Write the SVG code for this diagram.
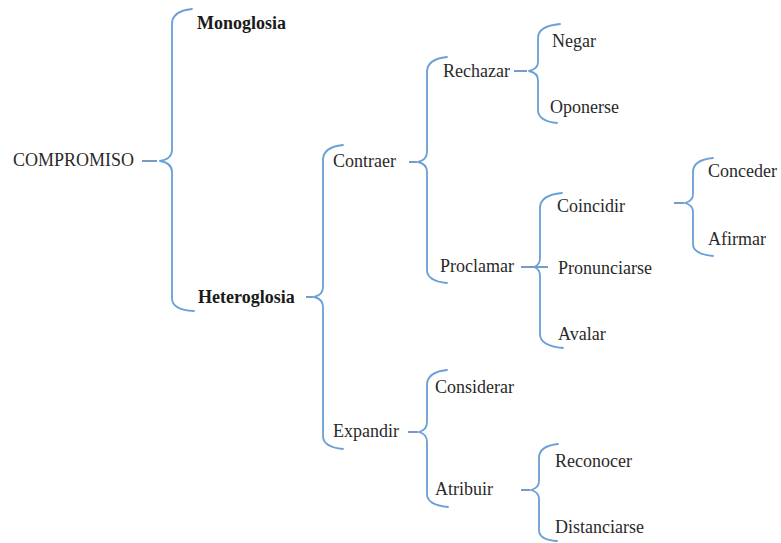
<svg xmlns="http://www.w3.org/2000/svg" width="781" height="543" viewBox="0 0 781 543" font-family="Liberation Serif, DejaVu Serif, serif">
<style>
.t{font-size:18px;fill:#2a2a2a}
.b{font-weight:bold;fill:#1a1a1a}
.br{fill:none;stroke:#6a9fd8;stroke-width:1.8;stroke-linecap:round;stroke-linejoin:round}
.d{fill:none;stroke:#6a8fbf;stroke-width:1.8}
</style>
<rect width="781" height="543" fill="#ffffff"/>
<g id="connectors">
<line class="d" x1="142" y1="161" x2="157" y2="161"/>
<path class="br" d="M192,9 Q172,11 172,24 L172,150 Q172,159 160,161 Q172,163 172,172 L172,298 Q172,310 194,311"/>
<line class="d" x1="306" y1="297" x2="313" y2="297"/>
<path class="br" d="M343,145 Q323,147 323,160 L323,287 Q323,295 314,297 Q323,299 323,307 L323,436 Q323,447 343,449"/>
<line class="d" x1="409" y1="162" x2="417" y2="162"/>
<path class="br" d="M447,57 Q427,59 427,72 L427,152 Q427,160 418,162 Q427,164 427,172 L427,270 Q427,281 447,283"/>
<line class="d" x1="514" y1="71" x2="527" y2="71"/>
<path class="br" d="M560,24 Q538,26 538,38 L538,62 Q538,69 529,71 Q538,73 538,80 L538,110 Q538,121 557,123"/>
<line class="d" x1="521" y1="267" x2="548" y2="267"/>
<path class="br" d="M562,193 Q540,195 540,208 L540,258 Q540,265 534,267 Q540,269 540,276 L540,334 Q540,346 563,348"/>
<line class="d" x1="674" y1="203" x2="684" y2="203"/>
<path class="br" d="M713,158 Q693,160 693,172 L693,194 Q693,201 685,203 Q693,205 693,212 L693,244 Q693,254 713,256"/>
<line class="d" x1="408" y1="432" x2="418" y2="432"/>
<path class="br" d="M447,370 Q427,372 427,385 L427,422 Q427,430 419,432 Q427,434 427,442 L427,494 Q427,505 448,507"/>
<line class="d" x1="521" y1="490" x2="530" y2="490"/>
<path class="br" d="M558,444 Q539,446 539,458 L539,481 Q539,488 531,490 Q539,492 539,499 L539,530 Q539,540 557,541"/>
</g>
<g id="n-compromiso"><text class="t" x="13" y="166">COMPROMISO</text></g>
<g id="n-monoglosia"><text class="t b" x="197" y="29">Monoglosia</text></g>
<g id="n-heteroglosia"><text class="t b" x="198" y="303">Heteroglosia</text></g>
<g id="n-contraer"><text class="t" x="333" y="167">Contraer</text></g>
<g id="n-rechazar"><text class="t" x="443" y="77">Rechazar</text></g>
<g id="n-negar"><text class="t" x="552" y="47">Negar</text></g>
<g id="n-oponerse"><text class="t" x="550" y="113">Oponerse</text></g>
<g id="n-proclamar"><text class="t" x="440" y="272">Proclamar</text></g>
<g id="n-coincidir"><text class="t" x="557" y="212">Coincidir</text></g>
<g id="n-pronunciarse"><text class="t" x="558" y="274">Pronunciarse</text></g>
<g id="n-avalar"><text class="t" x="558" y="340">Avalar</text></g>
<g id="n-conceder"><text class="t" x="708" y="177">Conceder</text></g>
<g id="n-afirmar"><text class="t" x="708" y="245">Afirmar</text></g>
<g id="n-expandir"><text class="t" x="333" y="437">Expandir</text></g>
<g id="n-considerar"><text class="t" x="435" y="393">Considerar</text></g>
<g id="n-atribuir"><text class="t" x="435" y="495">Atribuir</text></g>
<g id="n-reconocer"><text class="t" x="555" y="467">Reconocer</text></g>
<g id="n-distanciarse"><text class="t" x="555" y="533">Distanciarse</text></g>
</svg>
